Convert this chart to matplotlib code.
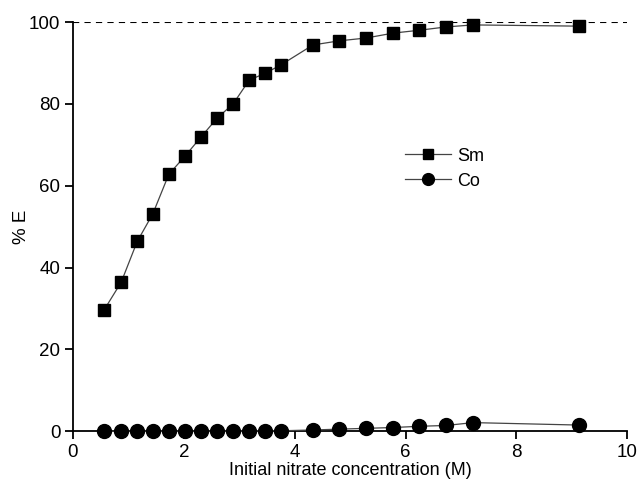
import matplotlib
matplotlib.use("Agg")
import matplotlib.pyplot as plt

x = [0.56, 0.87, 1.16, 1.44, 1.73, 2.02, 2.31, 2.60, 2.89, 3.18, 3.47, 3.75,
     4.33, 4.80, 5.29, 5.78, 6.25, 6.73, 7.22, 9.13]
sm = [29.6, 36.4, 46.4, 53.1, 62.8, 67.2, 71.9, 76.5, 80.0, 85.8, 87.5, 89.5,
      94.4, 95.4, 96.1, 97.3, 98.0, 98.8, 99.3, 99.0]
co = [0.0, 0.0, 0.0, 0.0, 0.0, 0.0, 0.0, 0.0, 0.0, 0.05, 0.1, 0.1,
      0.3, 0.5, 0.7, 0.9, 1.2, 1.4, 2.1, 1.5]
xticks = [0, 2, 4, 6, 8, 10]
yticks = [0, 20, 40, 60, 80, 100]

plt.rcParams['font.family'] = ['Liberation Sans', 'DejaVu Sans']
fig = plt.figure(figsize=(6.4, 4.9), dpi=100)
ax = fig.add_axes([0.114, 0.120, 0.866, 0.835])

ax.axhline(100, color='black', linestyle=(0, (3.0, 2.5)), linewidth=1.5, zorder=1)
ax.plot(x, sm, color='#444444', linewidth=0.9, marker='s', markersize=9,
        markerfacecolor='black', markeredgecolor='black', label='Sm', clip_on=False, zorder=3)
ax.plot(x, co, color='#444444', linewidth=0.9, marker='o', markersize=10,
        markerfacecolor='black', markeredgecolor='black', label='Co', clip_on=False, zorder=3)

ax.set_xlim(0, 10)
ax.set_ylim(0, 100)
ax.set_xticks(xticks)
ax.set_yticks(yticks)
for s in ['top', 'right']:
    ax.spines[s].set_visible(False)
for s in ['left', 'bottom']:
    ax.spines[s].set_linewidth(1.3)
ax.tick_params(direction='out', length=6, width=1.3, labelsize=13.5, pad=3)
ax.set_xlabel('Initial nitrate concentration (M)', fontsize=13, labelpad=1)
ax.set_ylabel('% E', fontsize=13.5)
ax.yaxis.set_label_coords(-0.078, 0.5)

leg = ax.legend(loc='upper left', bbox_to_anchor=(0.599, 0.693), frameon=False,
                fontsize=13, handlelength=2.55, handletextpad=0.35, labelspacing=0.45,
                borderpad=0, borderaxespad=0, markerscale=0.85)
fig.savefig('out.png', dpi=100)
